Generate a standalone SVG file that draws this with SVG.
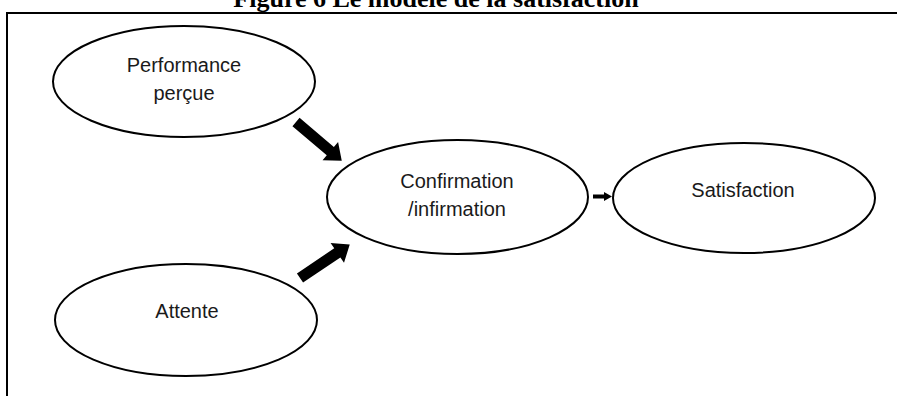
<svg xmlns="http://www.w3.org/2000/svg" width="898" height="396" viewBox="0 0 898 396">
  <style>
    .node { fill: #ffffff; stroke: #000000; stroke-width: 2; }
    .label { font-family: "Liberation Sans", Arial, sans-serif; font-size: 20px; fill: #1a1a1a; text-anchor: middle; }
    .title { font-family: "Liberation Serif", "Times New Roman", serif; font-size: 26px; font-weight: bold; fill: #000000; text-anchor: middle; }
    .frame { fill: none; stroke: #000000; stroke-width: 2; }
    .arrow { fill: #000000; stroke: none; }
  </style>
  <defs>
    <!-- thick block arrow pointing along +x, tail at origin -->
    <path id="blockArrow" d="M0,-5.5 L45,-5.5 L45,-12 L60,0 L45,12 L45,5.5 L0,5.5 Z"/>
  </defs>

  <rect x="0" y="0" width="898" height="396" fill="#ffffff"/>

  <!-- caption, partly clipped by the page top -->
  <text class="title" x="436" y="7">Figure 6 Le modèle de la satisfaction</text>

  <!-- frame: top and left rules -->
  <path class="frame" d="M6,13 L897,13 M7,13 L7,396"/>

  <g id="performance">
    <ellipse class="node" cx="184" cy="81.5" rx="131" ry="55.5"/>
    <text class="label" x="184" y="72">Performance</text>
    <text class="label" x="184" y="100">perçue</text>
  </g>

  <g id="attente">
    <ellipse class="node" cx="186" cy="320" rx="131" ry="56"/>
    <text class="label" x="187" y="318">Attente</text>
  </g>

  <g id="confirmation">
    <ellipse class="node" cx="457.5" cy="197" rx="130.5" ry="57"/>
    <text class="label" x="457" y="188">Confirmation</text>
    <text class="label" x="457" y="216">/infirmation</text>
  </g>

  <g id="satisfaction">
    <ellipse class="node" cx="744" cy="198" rx="131" ry="55"/>
    <text class="label" x="743" y="197">Satisfaction</text>
  </g>

  <g id="connectors">
    <use class="arrow" href="#blockArrow" transform="translate(296,122) rotate(40.3)"/>
    <use class="arrow" href="#blockArrow" transform="translate(300,278) rotate(-34)"/>
    <path class="arrow" d="M593,194.5 L604,194.5 L604,192 L612,196.5 L604,201 L604,198.5 L593,198.5 Z"/>
  </g>
</svg>
